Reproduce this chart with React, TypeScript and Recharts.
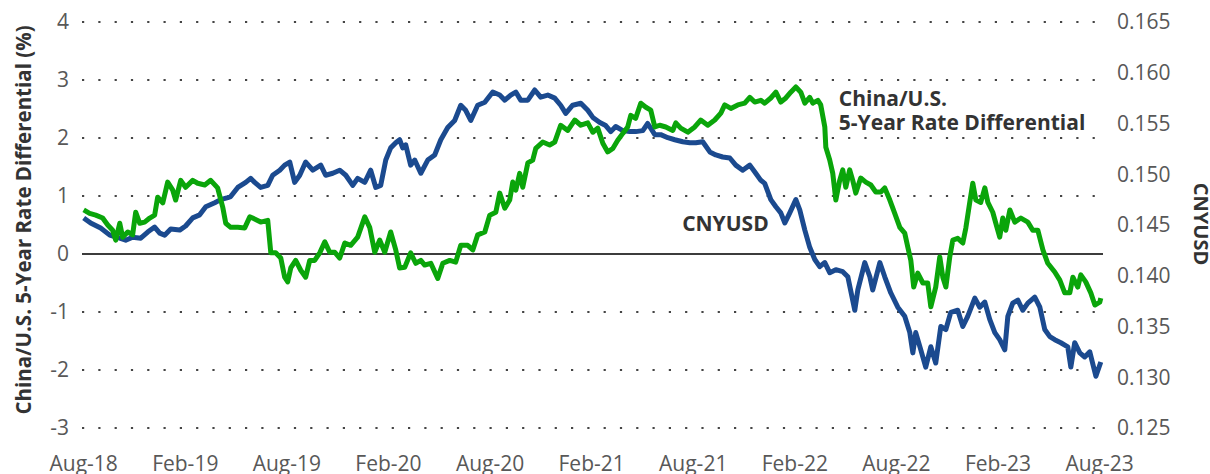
import { LineChart, Line, XAxis, YAxis, CartesianGrid, ReferenceLine, ReferenceDot } from "recharts";

const FONT = "'Open Sans', sans-serif";
const TICK = "#585858";
const TITLE = "#333333";

// months counted from Aug-18
const tickMonths = [0, 6, 12, 18, 24, 30, 36, 42, 48, 54, 60];
const tickLabels = ["Aug-18", "Feb-19", "Aug-19", "Feb-20", "Aug-20", "Feb-21", "Aug-21", "Feb-22", "Aug-22", "Feb-23", "Aug-23"];
const rateTicks = [-3, -2, -1, 0, 1, 2, 3, 4];
const cnyTicks = [0.125, 0.13, 0.135, 0.14, 0.145, 0.15, 0.155, 0.16, 0.165];

// CNYUSD (right axis)
const cnyMonths = [
  0, 0.41, 1.0, 1.54, 2.13, 2.48, 2.89, 3.37, 3.78, 4.19, 4.49, 4.78, 5.14, 5.67, 6.02, 6.44, 6.85, 7.21, 7.74, 8.09, 8.51, 8.68, 9.1, 9.57, 9.86,
  10.1, 10.45, 10.87, 11.16, 11.58, 11.87, 12.17, 12.46, 12.76, 13.11, 13.53, 14.0, 14.29, 14.71, 15.12, 15.48, 15.89, 16.18, 16.6, 16.95, 17.25, 17.54, 17.84, 18.13, 18.43, 18.66, 18.84, 19.02, 19.31, 19.55, 19.91,
  20.32, 20.73, 21.09, 21.5, 21.91, 22.27, 22.56, 22.86, 23.27, 23.69, 24.16, 24.57, 24.87, 25.22, 25.52, 25.81, 26.23, 26.64, 26.99, 27.41, 27.82, 28.17, 28.47, 28.88, 29.36, 29.77,
  30.07, 30.48, 30.83, 31.13, 31.42, 31.84, 32.25, 32.6, 33.02, 33.31, 33.73, 34.08, 34.5, 34.91, 35.38, 35.8, 36.15, 36.56, 36.98, 37.33, 37.74, 38.16, 38.51, 38.92, 39.34, 39.69, 39.99,
  40.22, 40.58, 40.88, 41.17, 41.41, 41.7, 42.06, 42.29, 42.59, 42.88, 43.18, 43.47, 43.77, 44.06, 44.42, 44.83, 45.13, 45.54, 45.72, 46.13, 46.43, 46.6, 47.02, 47.31, 47.67, 48.08, 48.49, 48.79, 48.97, 49.14, 49.44, 49.73, 50.03,
  50.32, 50.62, 50.92, 51.21, 51.62, 51.92, 52.21, 52.63, 52.92, 53.22, 53.51, 53.81, 54.1, 54.4, 54.58, 54.87, 55.17, 55.46, 55.76, 56.17, 56.47, 56.76, 57.06, 57.35, 57.71, 58.12, 58.3, 58.53, 58.83, 59.12, 59.42, 59.78, 60.07,
];
const cnyValues = [
  0.1457, 0.1452, 0.1447, 0.144, 0.1437, 0.1435, 0.1438, 0.1437, 0.1443, 0.1448, 0.1442, 0.144, 0.1446, 0.1445, 0.1449, 0.1457, 0.146, 0.1468, 0.1472, 0.1475, 0.1477, 0.1478, 0.1487, 0.1492, 0.1496,
  0.1492, 0.1487, 0.1489, 0.1499, 0.1504, 0.1509, 0.1512, 0.1492, 0.1499, 0.1512, 0.1504, 0.1509, 0.1499, 0.1501, 0.1504, 0.1499, 0.1489, 0.1496, 0.1492, 0.1504, 0.1487, 0.1489, 0.1514, 0.1526, 0.1531, 0.1534, 0.1526, 0.1529, 0.1509, 0.1514, 0.1501,
  0.1514, 0.1519, 0.1534, 0.1546, 0.1553, 0.1568, 0.1563, 0.1553, 0.1568, 0.1571, 0.1581, 0.1578, 0.1573, 0.1578, 0.1581, 0.1573, 0.1573, 0.1583, 0.1576, 0.1578, 0.1575, 0.1568, 0.156, 0.1568, 0.157, 0.1563,
  0.1556, 0.1551, 0.1548, 0.1542, 0.1547, 0.1543, 0.1542, 0.1542, 0.1543, 0.155, 0.1539, 0.1539, 0.1536, 0.1534, 0.1532, 0.1531, 0.1531, 0.1532, 0.1522, 0.1519, 0.1517, 0.1516, 0.1509, 0.1504, 0.1509, 0.1501, 0.1494,
  0.1491, 0.1475, 0.1468, 0.1462, 0.1452, 0.1462, 0.1475, 0.1465, 0.1445, 0.1428, 0.1416, 0.1409, 0.1413, 0.1403, 0.1406, 0.1404, 0.1399, 0.1366, 0.1386, 0.1413, 0.1399, 0.1386, 0.1413, 0.1399, 0.1383, 0.1369, 0.136, 0.1344, 0.1324, 0.1344, 0.1327, 0.131, 0.133,
  0.1314, 0.135, 0.1347, 0.1364, 0.1366, 0.135, 0.136, 0.1378, 0.1369, 0.1374, 0.1357, 0.1344, 0.1337, 0.1327, 0.136, 0.1373, 0.1376, 0.1366, 0.1373, 0.1379, 0.1369, 0.1347, 0.134, 0.1337, 0.1334, 0.133, 0.131, 0.1334, 0.1324, 0.132, 0.1325, 0.1301, 0.1315,
];

// China/U.S. 5-year rate differential, % (left axis)
const rateMonths = [
  0, 0.35, 0.71, 1.12, 1.42, 1.71, 1.89, 2.13, 2.3, 2.6, 2.89, 3.07, 3.31, 3.6, 3.9, 4.19, 4.37, 4.67, 4.96, 5.26, 5.43, 5.73, 6.02, 6.44, 6.73, 7.15, 7.5, 7.91, 8.21, 8.39, 8.68, 9.1, 9.51, 9.81,
  9.98, 10.45, 10.87, 11.05, 11.34, 11.64, 11.87, 12.05, 12.23, 12.52, 12.82, 13.11, 13.35, 13.64, 13.94, 14.24, 14.53, 14.83, 15.12, 15.42, 15.77, 16.18, 16.6, 16.89, 17.19, 17.48, 17.78, 18.13, 18.43, 18.66, 18.96, 19.31, 19.61, 19.91,
  20.14, 20.5, 20.91, 21.21, 21.62, 21.97, 22.27, 22.68, 22.98, 23.27, 23.69, 23.98, 24.34, 24.57, 24.87, 25.16, 25.34, 25.52, 25.75, 25.93, 26.23, 26.52, 26.7, 27.11, 27.52, 27.82, 28.17, 28.59, 29.0, 29.36, 29.77,
  30.07, 30.36, 30.66, 30.95, 31.25, 31.54, 31.84, 32.13, 32.31, 32.6, 32.9, 33.2, 33.49, 33.73, 34.02, 34.38, 34.79, 34.97, 35.26, 35.68, 36.09, 36.44, 36.86, 37.27, 37.63, 37.86, 38.22, 38.63, 39.04, 39.34, 39.63, 39.99,
  40.22, 40.58, 40.88, 41.17, 41.47, 41.76, 42.06, 42.35, 42.59, 42.88, 43.06, 43.36, 43.53, 43.77, 43.83, 44.06, 44.24, 44.42, 44.65, 44.83, 45.01, 45.24, 45.42, 45.6, 45.89, 46.19, 46.49, 46.78, 47.08, 47.31, 47.61, 47.9, 48.2, 48.49, 48.67, 48.85, 49.02, 49.26, 49.56, 49.85, 50.03,
  50.32, 50.56, 50.74, 50.92, 51.15, 51.33, 51.62, 51.92, 52.1, 52.33, 52.51, 52.69, 52.98, 53.22, 53.4, 53.69, 53.87, 54.1, 54.28, 54.46, 54.7, 54.99, 55.35, 55.76, 56.05, 56.35, 56.65, 56.94, 57.35, 57.65, 57.94, 58.24, 58.42, 58.71, 58.89, 59.18, 59.48, 59.72, 60.01, 60.07,
];
const rateValues = [
  0.76, 0.7, 0.67, 0.62, 0.5, 0.41, 0.24, 0.53, 0.29, 0.38, 0.33, 0.72, 0.53, 0.55, 0.62, 0.67, 0.98, 0.88, 1.24, 1.1, 0.93, 1.27, 1.15, 1.27, 1.22, 1.19, 1.27, 1.14, 0.81, 0.53, 0.46, 0.46, 0.45, 0.64,
  0.62, 0.55, 0.58, 0.02, 0.02, -0.07, -0.4, -0.48, -0.24, -0.11, -0.28, -0.4, -0.11, -0.11, 0.02, 0.21, 0.03, 0.03, -0.07, 0.19, 0.15, 0.29, 0.64, 0.46, 0.03, 0.24, 0.03, 0.38, 0.07, -0.24, -0.23, 0.02, -0.16, -0.11,
  -0.19, -0.16, -0.42, -0.16, -0.11, -0.14, 0.15, 0.15, 0.07, 0.33, 0.38, 0.67, 0.72, 1.05, 0.79, 0.93, 1.24, 1.1, 1.39, 1.15, 1.57, 1.62, 1.82, 1.93, 1.88, 1.93, 2.22, 2.13, 2.31, 2.22, 2.26,
  2.1, 2.17, 1.91, 1.76, 1.82, 1.96, 2.08, 2.19, 2.39, 2.34, 2.6, 2.53, 2.48, 2.19, 2.22, 2.19, 2.13, 2.26, 2.17, 2.1, 2.19, 2.31, 2.22, 2.31, 2.43, 2.57, 2.51, 2.57, 2.6, 2.7, 2.62, 2.65,
  2.6, 2.69, 2.79, 2.62, 2.69, 2.79, 2.88, 2.79, 2.6, 2.7, 2.6, 2.65, 2.57, 2.19, 1.84, 1.62, 1.39, 0.93, 1.27, 1.45, 1.15, 1.45, 1.27, 1.05, 1.31, 1.24, 1.19, 1.07, 1.07, 1.14, 0.93, 0.7, 0.46, 0.36, 0.12, -0.11, -0.57, -0.33, -0.5, -0.5, -0.91,
  -0.57, -0.05, -0.4, -0.57, -0.05, 0.24, 0.27, 0.19, 0.45, 0.89, 1.22, 0.93, 0.89, 1.14, 0.89, 0.72, 0.53, 0.29, 0.62, 0.41, 0.76, 0.55, 0.62, 0.55, 0.41, 0.41, 0.07, -0.16, -0.31, -0.45, -0.67, -0.67, -0.4, -0.57, -0.36, -0.48, -0.67, -0.88, -0.83, -0.76,
];

const tickStyle = { fill: TICK, fontSize: 21, fontFamily: FONT };
const noteStyle = { fill: TITLE, fontSize: 21, fontWeight: 700, fontFamily: FONT };

// label placed at a data point (r=0 dot), anchored by its left or centre
function note(text: string, anchor: "start" | "middle") {
  return {
    content: ({ viewBox }: any) => (
      <text x={viewBox?.x ?? 0} y={viewBox?.y ?? 0} textAnchor={anchor} dy="0.36em" style={noteStyle}>
        {text}
      </text>
    ),
  };
}

export default function App() {
  const cnyData = cnyMonths.map((m, i) => ({ m, v: cnyValues[i] }));
  const rateData = rateMonths.map((m, i) => ({ m, v: rateValues[i] }));

  return (
    <div style={{ position: "absolute", left: 0, top: 0, width: 1210, height: 474, background: "#fff" }}>
      <LineChart width={1210} height={474} margin={{ top: 22, right: 0, bottom: 0, left: 0 }}>
        <CartesianGrid yAxisId="left" vertical={false} stroke="#454545" strokeWidth={2.2} strokeDasharray="2.2 14.1" />
        <XAxis
          type="number"
          dataKey="m"
          domain={[-0.1, 60.2]}
          ticks={tickMonths}
          interval={0}
          tickFormatter={(m) => tickLabels[tickMonths.indexOf(m)]}
          axisLine={false}
          tickLine={false}
          height={46}
          tickMargin={22}
          tick={tickStyle}
        />
        <YAxis
          yAxisId="left"
          domain={[-3, 4]}
          ticks={rateTicks}
          interval={0}
          axisLine={false}
          tickLine={false}
          width={82}
          tickMargin={7}
          tick={tickStyle}
          label={{
            content: () => (
              <text x={24} y={220} transform="rotate(-90 24 220)" textAnchor="middle" dy="0.36em" style={{ ...noteStyle, fontSize: 20.5 }}>
                China/U.S. 5-Year Rate Differential (%)
              </text>
            ),
          }}
        />
        <YAxis
          yAxisId="right"
          orientation="right"
          domain={[0.125, 0.165]}
          ticks={cnyTicks}
          interval={0}
          tickFormatter={(v) => v.toFixed(3)}
          axisLine={false}
          tickLine={false}
          width={107}
          tickMargin={8}
          tick={tickStyle}
          label={{
            content: () => (
              <text x={1201} y={224} transform="rotate(90 1201 224)" textAnchor="middle" dy="0.36em" style={{ ...noteStyle, fontSize: 20 }}>
                CNYUSD
              </text>
            ),
          }}
        />
        <ReferenceLine yAxisId="left" y={0} stroke="#3c3c3c" strokeWidth={2} />
        <Line yAxisId="right" data={cnyData} dataKey="v" type="linear" stroke="#1b4a8f" strokeWidth={5} strokeLinejoin="round" dot={false} isAnimationActive={false} />
        <Line yAxisId="left" data={rateData} dataKey="v" type="linear" stroke="#0aa50a" strokeWidth={5} strokeLinejoin="round" dot={false} isAnimationActive={false} />
        <ReferenceDot yAxisId="left" x={37.9} y={0.52} r={0} fill="none" stroke="none" label={note("CNYUSD", "middle")} />
        <ReferenceDot yAxisId="left" x={44.6} y={2.69} r={0} fill="none" stroke="none" label={note("China/U.S.", "start")} />
        <ReferenceDot yAxisId="left" x={44.6} y={2.26} r={0} fill="none" stroke="none" label={note("5-Year Rate Differential", "start")} />
      </LineChart>
    </div>
  );
}
